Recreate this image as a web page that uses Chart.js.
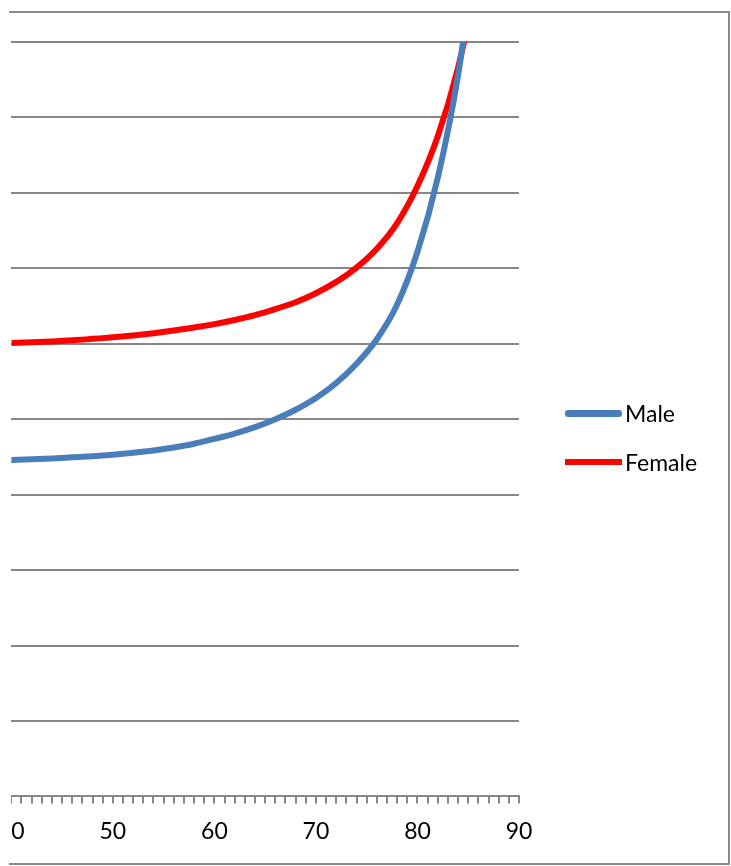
<!DOCTYPE html>
<html>
<head>
<meta charset="utf-8">
<script src="https://cdn.jsdelivr.net/npm/chart.js@4/dist/chart.umd.min.js"></script>
<style>
  html, body { margin: 0; padding: 0; background: #fff; }
  body { width: 731px; height: 866px; position: relative; overflow: hidden; font-family: Lato, "Open Sans", sans-serif; }
  #clip { position: absolute; left: 11px; top: 0; width: 720px; height: 866px; overflow: hidden; }
  #chart { position: absolute; left: 0; top: 0; }
  #frame { position: absolute; left: 9px; top: 11px; width: 719px; height: 850px;
           border-top: 2px solid #8a8a8a; border-right: 2px solid #8a8a8a; border-bottom: 2px solid #8a8a8a;
           pointer-events: none; }
  .key { position: absolute; left: 565px; height: 30px; display: flex; align-items: center; }
  .swatch { width: 57px; }
  .key span { margin-left: 3px; font-size: 23px; color: #000; }
</style>
</head>
<body>
<div id="clip"><canvas id="chart" width="760" height="866"></canvas></div>
<div id="frame"></div>
<div class="key" style="top:398px"><div class="swatch" style="height:7px;background:#4A7EBB;border-radius:3px"></div><span>Male</span></div>
<div class="key" style="top:447px"><div class="swatch" style="height:6px;background:#FF0000"></div><span>Female</span></div>
<script>
// Age (years, every 2 years) and curve values for each sex
const ages   = [40, 42, 44, 46, 48, 50, 52, 54, 56, 58, 60, 62, 64, 66, 68, 70, 72, 74, 76, 78, 80, 82, 84, 86];
const male   = [4.46, 4.47, 4.48, 4.495, 4.51, 4.53, 4.555, 4.585, 4.625, 4.675, 4.74, 4.81, 4.895, 5.00, 5.125, 5.28, 5.48, 5.735, 6.06, 6.52, 7.22, 8.20, 9.56, 11.50];
const female = [6.01, 6.02, 6.03, 6.045, 6.065, 6.085, 6.11, 6.14, 6.175, 6.215, 6.26, 6.315, 6.38, 6.46, 6.55, 6.67, 6.82, 7.01, 7.26, 7.60, 8.09, 8.75, 9.66, 10.90];
const xTickLabels = [40, 50, 60, 70, 80, 90];

const pts = ys => ages.map((a, i) => ({ x: a, y: ys[i] }));
const grey = '#878787';
const canvas = document.getElementById('chart');

// shift the canvas so the 40-year edge of the plot sits on the left edge of the clip box
const placePlot = {
  id: 'placePlot',
  afterLayout(chart) {
    canvas.style.left = (-chart.chartArea.left) + 'px';
  }
};

new Chart(canvas, {
  type: 'line',
  data: {
    datasets: [
      { label: 'Male', data: pts(male), borderColor: '#4A7EBB', backgroundColor: '#4A7EBB',
        borderWidth: 6, pointRadius: 0, cubicInterpolationMode: 'monotone', borderCapStyle: 'round' },
      { label: 'Female', data: pts(female), borderColor: '#FF0000', backgroundColor: '#FF0000',
        borderWidth: 6, pointRadius: 0, cubicInterpolationMode: 'monotone' }
    ]
  },
  options: {
    responsive: false,
    animation: false,
    layout: { padding: { left: 0, right: 225, top: 42, bottom: 7 } },
    plugins: { legend: { display: false }, tooltip: { enabled: false } },
    scales: {
      x: {
        type: 'linear', min: 40, max: 90,
        border: { display: true, color: grey, width: 2 },
        grid: { drawOnChartArea: false, color: grey, lineWidth: 2, tickLength: 7 },
        ticks: {
          stepSize: 1, autoSkip: false, maxRotation: 0, padding: 14,
          color: '#000', font: { family: 'Lato', size: 23 },
          callback: v => xTickLabels.includes(v) ? String(v) : ''
        }
      },
      y: {
        min: 0, max: 10,
        border: { display: false },
        grid: { color: grey, lineWidth: 2, drawTicks: false },
        ticks: { display: false, stepSize: 1 }
      }
    }
  },
  plugins: [placePlot]
});
</script>
</body>
</html>
